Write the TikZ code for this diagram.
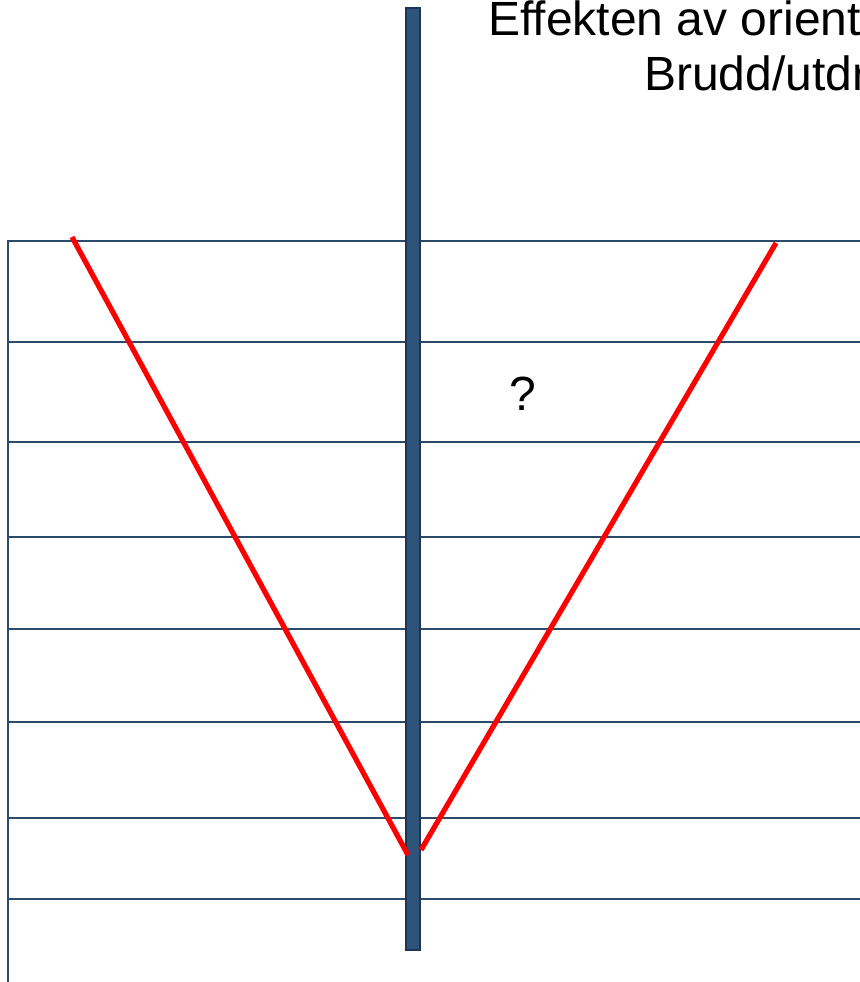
\documentclass[tikz,border=0pt]{standalone}
\usepackage{fontspec}
\setmainfont{Liberation Sans}
\definecolor{gridblue}{RGB}{44,74,106}
\definecolor{barfill}{RGB}{46,84,122}
\definecolor{barline}{RGB}{30,54,84}
\begin{document}
\begin{tikzpicture}[x=0.75pt,y=-0.75pt,
  gridline/.style={draw=gridblue,line width=1.6pt},
  redline/.style={draw=red,line width=3.9pt},
  bigtext/.style={font=\fontsize{36pt}{42pt}\selectfont,inner sep=0pt,anchor=base west}]
\useasboundingbox (0,0) rectangle (860,982);
\clip (0,0) rectangle (860,982);
% grid
\foreach \yy in {241,342,442,537,629,722,818,899}
  \draw[gridline] (8,\yy) -- (860,\yy);
\draw[gridline] (8,240) -- (8,982);
% bar
\fill[barfill,draw=barline,line width=1.2pt] (406,8) rectangle (420,950);
% red lines
\coordinate (lt) at (72,237);
\coordinate (lb) at (408,855);
\coordinate (rt) at (776,243);
\coordinate (rb) at (421,850);
\draw[redline] (lt) -- (lb);
\draw[redline] (rt) -- (rb);
% text
\node[bigtext] (t1) at (488,35) {Effekten av orient};
\node[bigtext] (t2) at (644,90) {Brudd/utdr};
\node[bigtext] (q) at (509,410) {?};
\end{tikzpicture}
\end{document}
